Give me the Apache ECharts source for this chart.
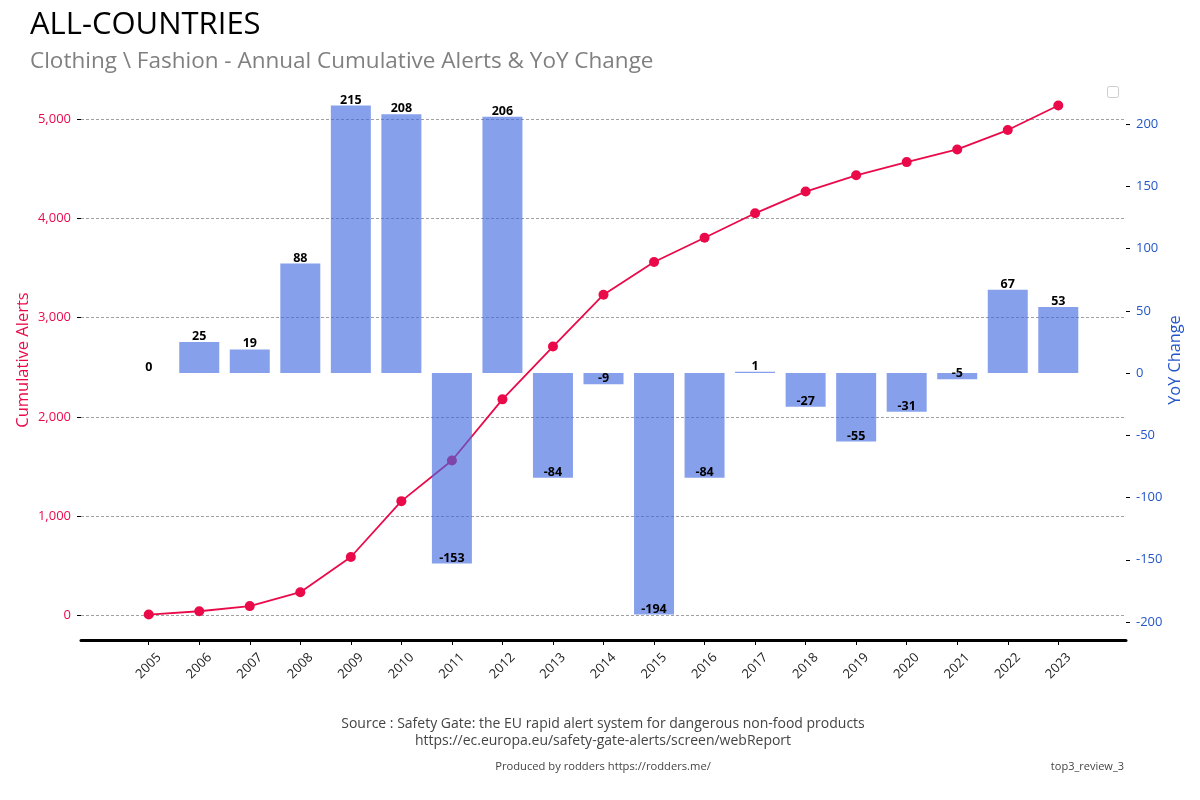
<!DOCTYPE html>
<html>
<head>
<meta charset="utf-8">
<script src="https://cdn.jsdelivr.net/npm/echarts@6/dist/echarts.min.js"></script>
<style>html,body{margin:0;padding:0;background:#fff}#c{width:1200px;height:800px}</style>
</head>
<body>
<div id="c"></div>
<script>
const years = ['2005','2006','2007','2008','2009','2010','2011','2012','2013','2014','2015','2016','2017','2018','2019','2020','2021','2022','2023'];
const cumulative = [8, 41, 93, 233, 588, 1151, 1561, 2177, 2709, 3232, 3561, 3806, 4052, 4271, 4435, 4568, 4696, 4891, 5139];
const yoyChange = [0, 25, 19, 88, 215, 208, -153, 206, -84, -9, -194, -84, 1, -27, -55, -31, -5, 67, 53];
const leftTicks = [0, 1000, 2000, 3000, 4000, 5000];
const rightTicks = [-200, -150, -100, -50, 0, 50, 100, 150, 200];

const RED = '#ea0a4a';
const BLUE = '#2456c8';
const FONT = 'Open Sans';
const idx = years.map((_, i) => i);

const chart = echarts.init(document.getElementById('c'), null, {renderer: 'canvas'});
chart.setOption({
  animation: false,
  textStyle: {fontFamily: FONT},
  grid: {left: 81, right: 74, top: 80, bottom: 160, containLabel: false},
  xAxis: {
    type: 'value', min: -1.34, max: 19.34,
    axisLine: {show: true, onZero: false, lineStyle: {color: '#000', width: 3}},
    axisTick: {show: true, customValues: idx, length: 5, lineStyle: {color: '#000', width: 1}},
    axisLabel: {customValues: idx, rotate: 45, fontSize: 13, color: '#222', margin: 26, fontFamily: FONT,
      align: 'center', verticalAlign: 'middle',
      formatter: v => years[Math.round(v)] || ''},
    splitLine: {show: false}
  },
  yAxis: [{
    type: 'value', position: 'left', min: -248.6, max: 5395.6,
    name: 'Cumulative Alerts', nameLocation: 'middle', nameGap: 49, nameRotate: 90, nameMoveOverlap: false,
    nameTextStyle: {color: RED, fontSize: 16.5, fontFamily: FONT},
    axisLine: {show: false, onZero: false},
    axisTick: {show: true, customValues: leftTicks, length: 4, lineStyle: {color: '#000'}},
    axisLabel: {customValues: leftTicks, color: RED, fontSize: 13, margin: 10, fontFamily: FONT,
      formatter: v => v.toLocaleString('en-US')},
    splitLine: {show: true, lineStyle: {color: '#777', type: [3, 2], width: 0.7}}
  }, {
    type: 'value', position: 'right', min: -214.45, max: 235.45,
    name: 'YoY Change', nameLocation: 'middle', nameGap: 41, nameRotate: 90, nameMoveOverlap: false,
    nameTextStyle: {color: BLUE, fontSize: 16.3, fontFamily: FONT},
    axisLine: {show: false, onZero: false},
    axisTick: {show: true, customValues: rightTicks, length: 4, lineStyle: {color: '#000'}},
    axisLabel: {customValues: rightTicks, color: BLUE, fontSize: 13, margin: 10, fontFamily: FONT},
    splitLine: {show: false}
  }],
  series: [{
    type: 'line', yAxisIndex: 0, z: 2,
    data: cumulative.map((v, i) => [i, v]),
    symbol: 'circle', symbolSize: 10,
    lineStyle: {color: RED, width: 1.8},
    itemStyle: {color: RED}
  }, {
    type: 'bar', yAxisIndex: 1, z: 3, barWidth: 40,
    itemStyle: {color: 'rgba(65,105,225,0.63)'},
    data: yoyChange.map((v, i) => ({
      value: [i, v],
      label: {show: true, position: v >= 0 ? 'top' : 'insideBottom', distance: -1,
        formatter: String(v), color: '#000', fontWeight: 'bold', fontSize: 12.5, fontFamily: FONT}
    }))
  }],
  graphic: [
    {type: 'text', x: 30, y: 25, style: {text: 'ALL-COUNTRIES', fontSize: 31, fill: '#000', fontFamily: FONT, verticalAlign: 'middle'}},
    {type: 'text', x: 30, y: 62, style: {text: 'Clothing \\ Fashion - Annual Cumulative Alerts & YoY Change', fontSize: 22.5, fill: '#808080', fontFamily: FONT, verticalAlign: 'middle'}},
    {type: 'text', x: 603, y: 724, style: {text: 'Source : Safety Gate: the EU rapid alert system for dangerous non-food products', fontSize: 14, fill: '#444', fontFamily: FONT, align: 'center', verticalAlign: 'middle'}},
    {type: 'text', x: 603, y: 741, style: {text: 'https://ec.europa.eu/safety-gate-alerts/screen/webReport', fontSize: 14, fill: '#444', fontFamily: FONT, align: 'center', verticalAlign: 'middle'}},
    {type: 'text', x: 603, y: 767, style: {text: 'Produced by rodders https://rodders.me/', fontSize: 11.2, fill: '#444', fontFamily: FONT, align: 'center', verticalAlign: 'middle'}},
    {type: 'text', x: 1124, y: 767, style: {text: 'top3_review_3', fontSize: 11, fill: '#444', fontFamily: FONT, align: 'right', verticalAlign: 'middle'}},
    {type: 'rect', shape: {x: 1107.5, y: 86.5, width: 11, height: 11, r: 2}, style: {fill: '#fff', stroke: '#ccc', lineWidth: 1}}
  ]
});
</script>
</body>
</html>
